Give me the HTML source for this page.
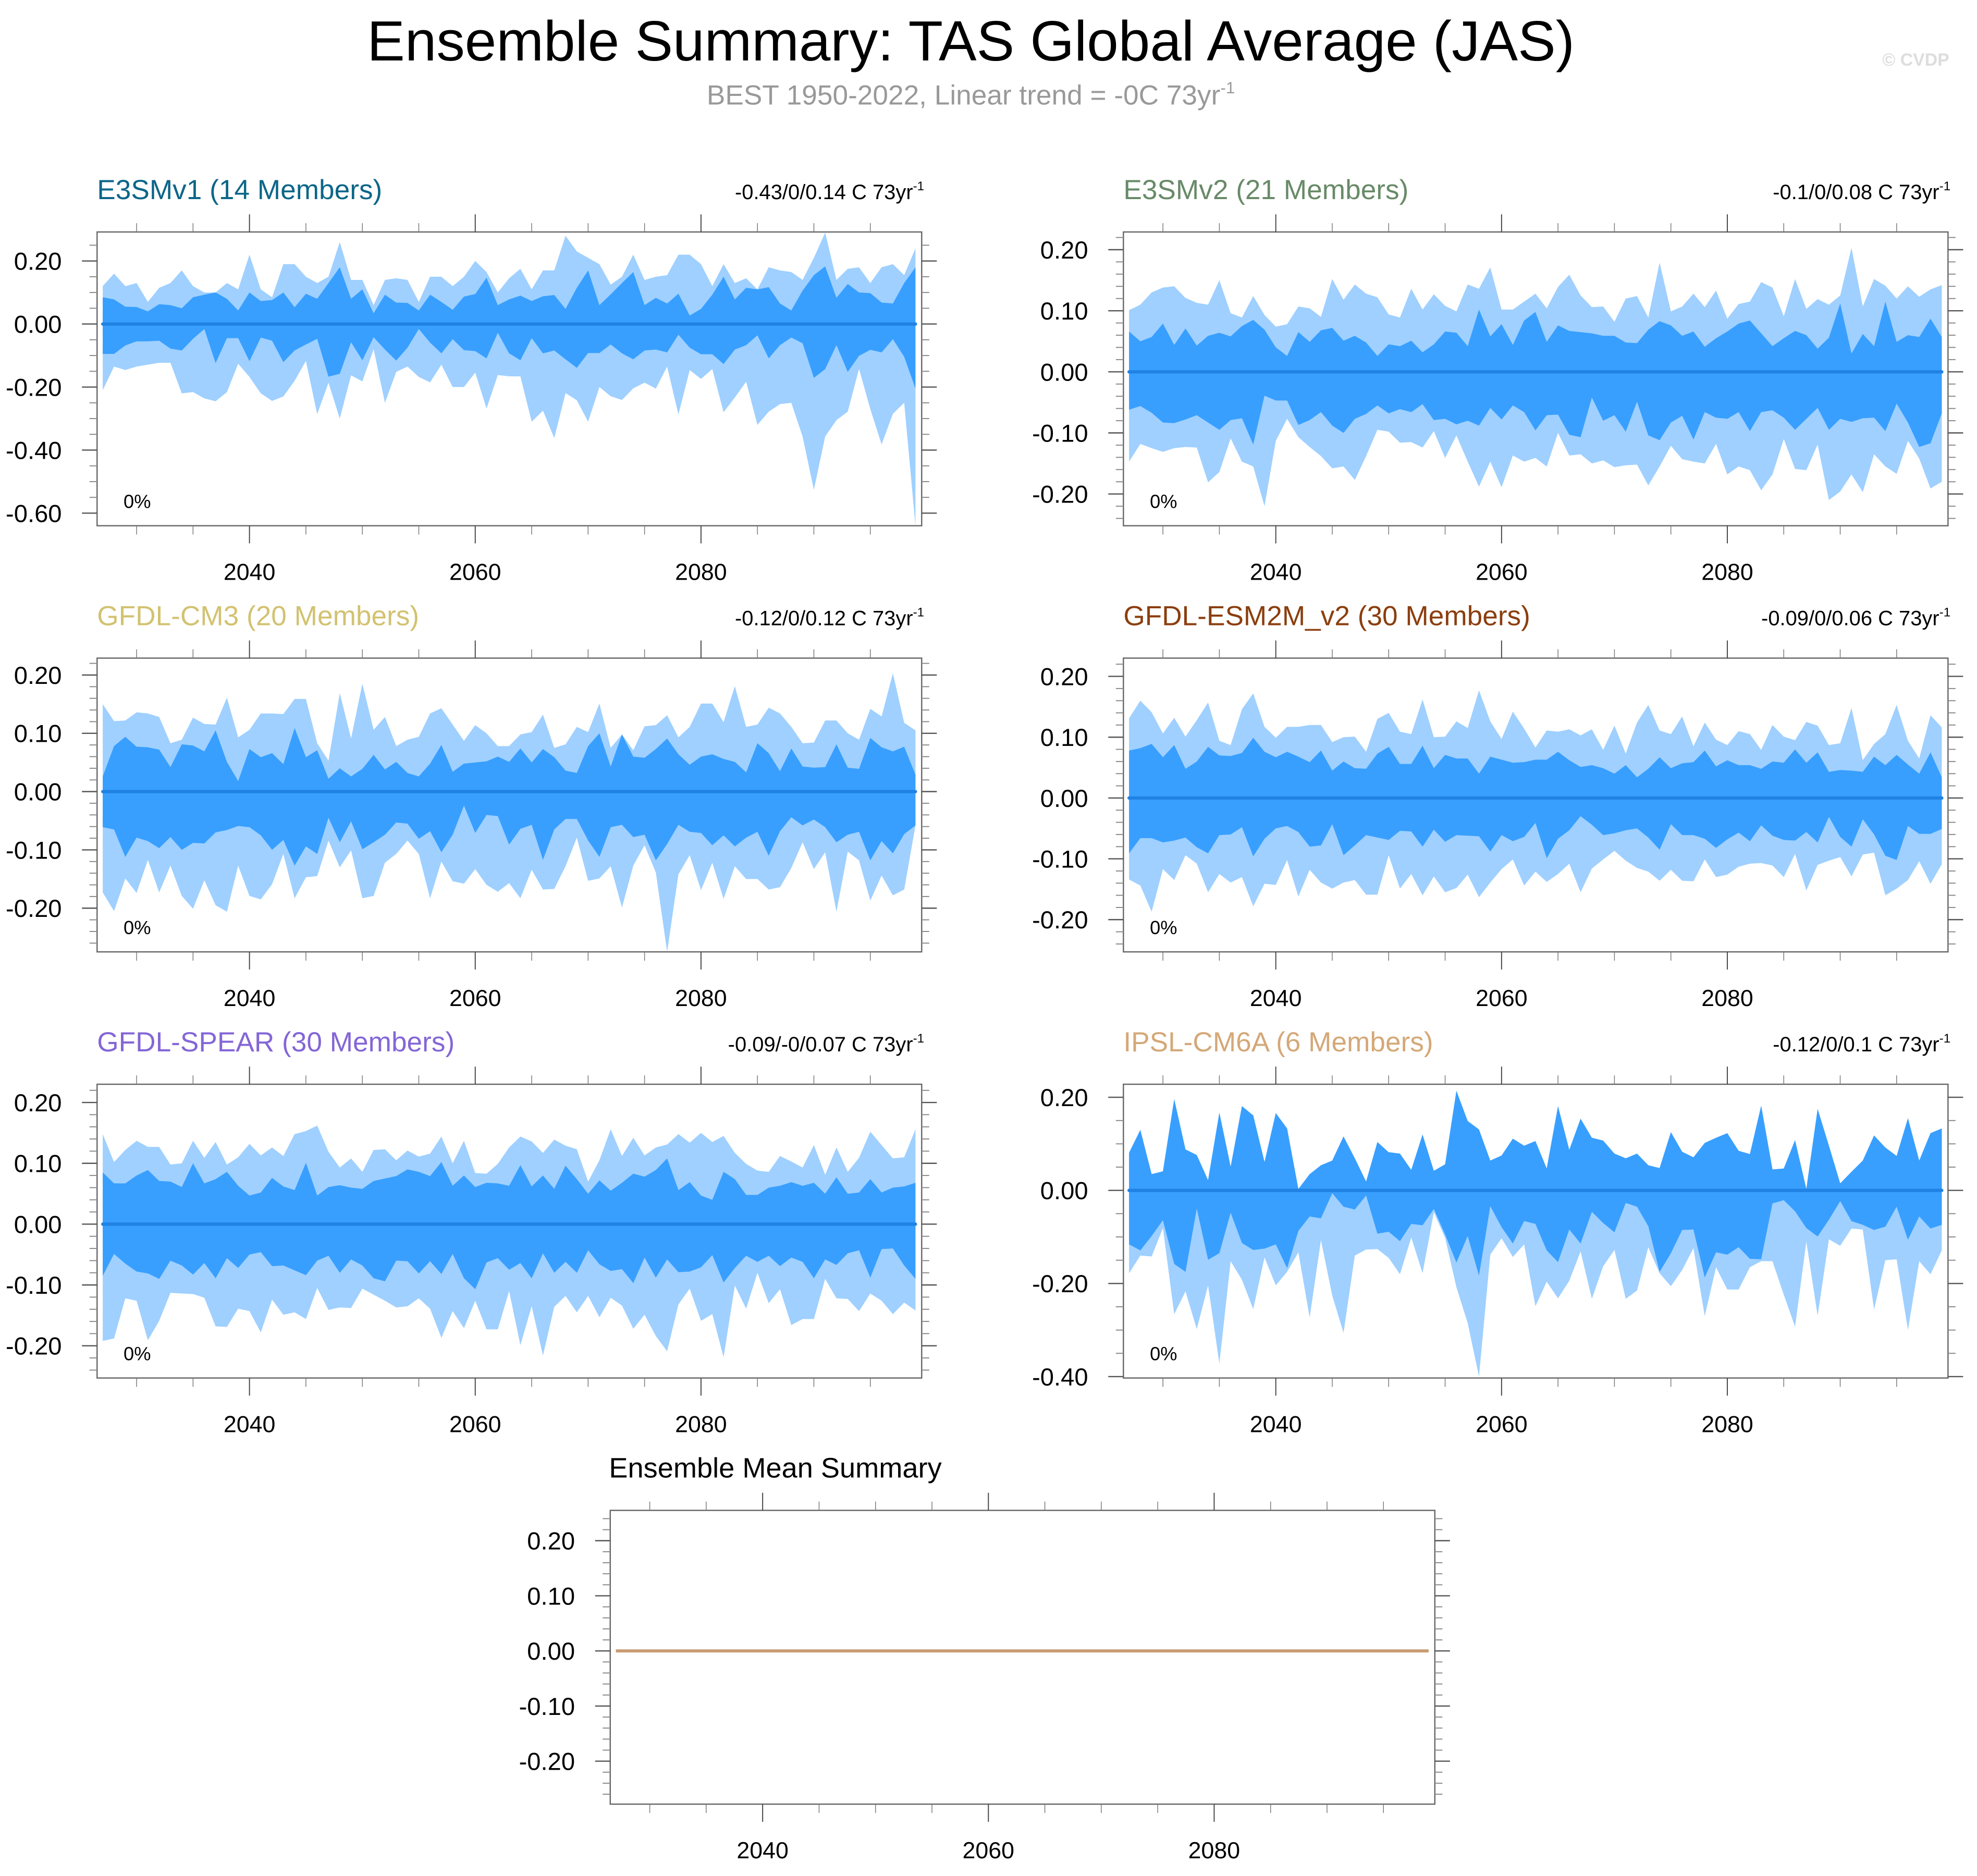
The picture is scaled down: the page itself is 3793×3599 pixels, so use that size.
<!DOCTYPE html>
<html><head><meta charset="utf-8">
<style>
html,body{margin:0;padding:0;background:#fff;}
svg{display:block;}
text{font-family:"Liberation Sans",Arial,sans-serif;}
</style></head>
<body>
<svg id="fig" xmlns="http://www.w3.org/2000/svg" width="3793" height="3599" viewBox="0 0 1568 1488" preserveAspectRatio="none">
<rect x="0" y="0" width="1568" height="1488" fill="#fff"/>
<text x="770" y="48" font-size="45" text-anchor="middle" fill="#000">Ensemble Summary: TAS Global Average (JAS)</text>
<text x="770" y="83" font-size="22" text-anchor="middle" fill="#999">BEST 1950-2022, Linear trend = -0C 73yr<tspan dy="-9" font-size="13">-1</tspan></text>
<text x="1546" y="52" font-size="14" font-weight="bold" text-anchor="end" fill="#ddd">© CVDP</text>
<g id="panels"></g>
</svg>
<script>
// ---------- data (years 2027..2099) ----------
const startYear = 2027;
const xMajorTicks = [2040, 2060, 2080];
const xMinorTicks = [2030,2035,2045,2050,2055,2065,2070,2075,2085,2090,2095];

const p1OuterUp = [0.12,0.16,0.12,0.13,0.07,0.115,0.13,0.17,0.12,0.10,0.10,0.13,0.11,0.22,0.11,0.085,0.19,0.19,0.15,0.13,0.15,0.26,0.14,0.14,0.06,0.14,0.145,0.14,0.07,0.15,0.15,0.12,0.15,0.20,0.165,0.10,0.145,0.175,0.11,0.17,0.17,0.28,0.23,0.21,0.19,0.125,0.15,0.22,0.14,0.15,0.155,0.22,0.22,0.19,0.12,0.19,0.13,0.145,0.11,0.18,0.17,0.165,0.14,0.21,0.29,0.14,0.175,0.18,0.13,0.18,0.19,0.155,0.24];
const p1InnerUp = [0.085,0.078,0.055,0.054,0.04,0.063,0.06,0.05,0.085,0.093,0.10,0.08,0.043,0.10,0.073,0.076,0.10,0.053,0.096,0.08,0.13,0.18,0.08,0.11,0.034,0.093,0.068,0.067,0.043,0.093,0.07,0.045,0.087,0.095,0.147,0.06,0.078,0.09,0.073,0.088,0.092,0.048,0.115,0.17,0.06,0.094,0.13,0.165,0.06,0.083,0.065,0.096,0.027,0.048,0.093,0.15,0.078,0.115,0.11,0.117,0.065,0.043,0.106,0.155,0.183,0.083,0.127,0.10,0.098,0.068,0.065,0.13,0.18];
const p1InnerLo = [-0.095,-0.095,-0.068,-0.055,-0.055,-0.053,-0.078,-0.084,-0.047,-0.016,-0.124,-0.045,-0.045,-0.118,-0.043,-0.053,-0.121,-0.084,-0.065,-0.047,-0.167,-0.158,-0.058,-0.115,-0.042,-0.081,-0.116,-0.075,-0.016,-0.059,-0.093,-0.048,-0.083,-0.086,-0.109,-0.028,-0.093,-0.115,-0.045,-0.093,-0.084,-0.112,-0.139,-0.092,-0.092,-0.065,-0.093,-0.112,-0.084,-0.081,-0.09,-0.034,-0.075,-0.096,-0.096,-0.127,-0.081,-0.067,-0.036,-0.109,-0.067,-0.043,-0.061,-0.171,-0.143,-0.067,-0.152,-0.101,-0.082,-0.09,-0.048,-0.104,-0.205];
const p1OuterLo = [-0.21,-0.135,-0.146,-0.135,-0.129,-0.123,-0.123,-0.22,-0.216,-0.236,-0.245,-0.216,-0.126,-0.168,-0.22,-0.244,-0.23,-0.18,-0.117,-0.286,-0.186,-0.30,-0.163,-0.182,-0.08,-0.25,-0.152,-0.135,-0.168,-0.185,-0.129,-0.20,-0.20,-0.154,-0.268,-0.162,-0.166,-0.166,-0.31,-0.275,-0.362,-0.219,-0.242,-0.31,-0.20,-0.229,-0.241,-0.204,-0.186,-0.205,-0.135,-0.287,-0.146,-0.174,-0.143,-0.28,-0.233,-0.183,-0.32,-0.278,-0.254,-0.25,-0.357,-0.526,-0.357,-0.305,-0.278,-0.142,-0.27,-0.382,-0.285,-0.25,-0.64];

const p2OuterUp = [0.101,0.11,0.13,0.138,0.14,0.121,0.113,0.11,0.15,0.096,0.089,0.124,0.093,0.074,0.078,0.107,0.104,0.09,0.152,0.118,0.143,0.128,0.122,0.094,0.089,0.136,0.102,0.127,0.108,0.099,0.143,0.136,0.171,0.102,0.102,0.115,0.128,0.104,0.139,0.159,0.125,0.106,0.107,0.082,0.12,0.124,0.089,0.179,0.099,0.107,0.128,0.106,0.133,0.087,0.111,0.115,0.147,0.138,0.091,0.152,0.103,0.119,0.11,0.125,0.203,0.107,0.152,0.141,0.12,0.14,0.123,0.135,0.142];
const p2InnerUp = [0.066,0.05,0.057,0.079,0.044,0.071,0.043,0.059,0.064,0.058,0.075,0.085,0.069,0.04,0.026,0.065,0.049,0.068,0.072,0.051,0.059,0.048,0.026,0.045,0.042,0.051,0.032,0.045,0.066,0.064,0.042,0.102,0.058,0.078,0.044,0.084,0.098,0.049,0.076,0.067,0.065,0.063,0.059,0.059,0.048,0.047,0.069,0.083,0.076,0.059,0.066,0.041,0.055,0.066,0.079,0.084,0.063,0.042,0.055,0.067,0.06,0.038,0.056,0.112,0.03,0.062,0.042,0.115,0.049,0.06,0.057,0.087,0.057];
const p2InnerLo = [-0.062,-0.056,-0.067,-0.083,-0.084,-0.078,-0.071,-0.083,-0.095,-0.079,-0.076,-0.119,-0.039,-0.047,-0.047,-0.087,-0.079,-0.066,-0.088,-0.10,-0.077,-0.069,-0.055,-0.068,-0.061,-0.066,-0.053,-0.079,-0.077,-0.086,-0.08,-0.088,-0.059,-0.078,-0.055,-0.066,-0.096,-0.071,-0.07,-0.103,-0.107,-0.042,-0.08,-0.071,-0.098,-0.049,-0.104,-0.112,-0.083,-0.072,-0.111,-0.066,-0.075,-0.077,-0.066,-0.097,-0.066,-0.063,-0.075,-0.095,-0.077,-0.059,-0.095,-0.077,-0.082,-0.076,-0.075,-0.097,-0.052,-0.083,-0.123,-0.117,-0.068];
const p2OuterLo = [-0.147,-0.118,-0.125,-0.131,-0.125,-0.123,-0.124,-0.181,-0.164,-0.109,-0.147,-0.155,-0.22,-0.113,-0.077,-0.107,-0.123,-0.138,-0.158,-0.155,-0.177,-0.138,-0.095,-0.098,-0.116,-0.115,-0.124,-0.097,-0.141,-0.104,-0.147,-0.188,-0.147,-0.189,-0.137,-0.147,-0.141,-0.155,-0.10,-0.137,-0.135,-0.15,-0.145,-0.156,-0.153,-0.152,-0.186,-0.155,-0.121,-0.143,-0.147,-0.15,-0.118,-0.168,-0.155,-0.161,-0.194,-0.168,-0.11,-0.159,-0.161,-0.119,-0.21,-0.196,-0.168,-0.197,-0.135,-0.155,-0.167,-0.113,-0.142,-0.191,-0.18];

const p3OuterUp = [0.15,0.121,0.122,0.136,0.134,0.128,0.083,0.089,0.127,0.116,0.115,0.161,0.093,0.106,0.134,0.134,0.133,0.159,0.159,0.083,0.053,0.169,0.091,0.185,0.106,0.128,0.078,0.089,0.094,0.134,0.143,0.115,0.087,0.114,0.10,0.078,0.078,0.098,0.102,0.132,0.075,0.081,0.111,0.102,0.151,0.075,0.098,0.071,0.112,0.114,0.131,0.093,0.111,0.151,0.151,0.119,0.181,0.111,0.115,0.144,0.134,0.111,0.083,0.084,0.122,0.122,0.10,0.089,0.142,0.129,0.203,0.118,0.105];
const p3InnerUp = [0.026,0.078,0.094,0.077,0.076,0.072,0.042,0.081,0.079,0.069,0.105,0.051,0.018,0.073,0.059,0.066,0.047,0.109,0.059,0.071,0.022,0.04,0.026,0.039,0.063,0.038,0.051,0.032,0.026,0.048,0.08,0.034,0.048,0.05,0.052,0.06,0.051,0.074,0.05,0.073,0.059,0.036,0.032,0.078,0.10,0.043,0.098,0.06,0.058,0.073,0.091,0.064,0.046,0.06,0.064,0.056,0.051,0.033,0.083,0.066,0.035,0.074,0.043,0.041,0.042,0.081,0.041,0.039,0.092,0.076,0.069,0.077,0.029];
const p3InnerLo = [-0.061,-0.065,-0.112,-0.079,-0.085,-0.097,-0.078,-0.10,-0.088,-0.089,-0.07,-0.066,-0.059,-0.061,-0.075,-0.10,-0.083,-0.127,-0.094,-0.107,-0.045,-0.087,-0.051,-0.099,-0.087,-0.074,-0.053,-0.055,-0.081,-0.068,-0.104,-0.074,-0.024,-0.071,-0.04,-0.042,-0.091,-0.064,-0.057,-0.117,-0.065,-0.047,-0.047,-0.084,-0.112,-0.061,-0.057,-0.078,-0.074,-0.118,-0.09,-0.057,-0.069,-0.071,-0.092,-0.075,-0.094,-0.079,-0.069,-0.11,-0.068,-0.044,-0.058,-0.048,-0.061,-0.087,-0.074,-0.069,-0.118,-0.085,-0.106,-0.073,-0.058];
const p3OuterLo = [-0.173,-0.205,-0.149,-0.174,-0.117,-0.173,-0.127,-0.179,-0.201,-0.152,-0.195,-0.206,-0.127,-0.179,-0.185,-0.159,-0.107,-0.183,-0.147,-0.145,-0.084,-0.13,-0.101,-0.183,-0.179,-0.122,-0.107,-0.084,-0.107,-0.183,-0.12,-0.154,-0.158,-0.133,-0.16,-0.172,-0.157,-0.183,-0.134,-0.168,-0.167,-0.128,-0.079,-0.153,-0.149,-0.128,-0.199,-0.127,-0.092,-0.139,-0.275,-0.142,-0.109,-0.169,-0.122,-0.184,-0.128,-0.15,-0.15,-0.168,-0.164,-0.131,-0.087,-0.133,-0.104,-0.206,-0.103,-0.118,-0.187,-0.144,-0.178,-0.168,-0.058];

const p4OuterUp = [0.131,0.16,0.141,0.106,0.132,0.101,0.128,0.157,0.094,0.087,0.146,0.172,0.117,0.099,0.117,0.117,0.12,0.12,0.092,0.10,0.101,0.076,0.13,0.14,0.109,0.105,0.162,0.10,0.101,0.126,0.115,0.177,0.126,0.097,0.142,0.114,0.083,0.111,0.109,0.113,0.103,0.113,0.079,0.119,0.073,0.124,0.153,0.111,0.105,0.134,0.085,0.124,0.096,0.087,0.11,0.105,0.079,0.12,0.101,0.095,0.125,0.119,0.087,0.09,0.148,0.062,0.089,0.105,0.153,0.094,0.065,0.136,0.116];
const p4InnerUp = [0.078,0.082,0.089,0.067,0.087,0.048,0.06,0.084,0.07,0.069,0.074,0.099,0.076,0.067,0.076,0.068,0.059,0.078,0.045,0.06,0.049,0.048,0.073,0.084,0.056,0.056,0.086,0.049,0.071,0.065,0.065,0.04,0.068,0.063,0.058,0.059,0.063,0.063,0.076,0.062,0.051,0.054,0.049,0.04,0.054,0.034,0.048,0.067,0.049,0.057,0.059,0.078,0.052,0.062,0.054,0.054,0.048,0.06,0.058,0.08,0.058,0.075,0.043,0.046,0.045,0.043,0.068,0.054,0.071,0.055,0.04,0.075,0.034];
const p4InnerLo = [-0.091,-0.066,-0.066,-0.073,-0.07,-0.065,-0.081,-0.091,-0.061,-0.06,-0.048,-0.096,-0.067,-0.05,-0.046,-0.056,-0.08,-0.078,-0.043,-0.094,-0.078,-0.061,-0.065,-0.069,-0.054,-0.055,-0.08,-0.052,-0.072,-0.061,-0.062,-0.063,-0.088,-0.061,-0.071,-0.064,-0.041,-0.099,-0.067,-0.053,-0.03,-0.044,-0.061,-0.058,-0.053,-0.05,-0.065,-0.085,-0.043,-0.061,-0.061,-0.067,-0.082,-0.068,-0.057,-0.071,-0.045,-0.062,-0.069,-0.07,-0.056,-0.073,-0.031,-0.064,-0.08,-0.035,-0.06,-0.095,-0.102,-0.046,-0.059,-0.059,-0.051];
const p4OuterLo = [-0.134,-0.144,-0.187,-0.117,-0.135,-0.094,-0.108,-0.155,-0.125,-0.139,-0.13,-0.178,-0.141,-0.143,-0.102,-0.162,-0.118,-0.139,-0.149,-0.139,-0.135,-0.159,-0.159,-0.094,-0.149,-0.125,-0.16,-0.129,-0.155,-0.148,-0.126,-0.163,-0.139,-0.117,-0.101,-0.144,-0.121,-0.138,-0.125,-0.108,-0.155,-0.116,-0.101,-0.087,-0.103,-0.115,-0.121,-0.136,-0.118,-0.136,-0.137,-0.101,-0.13,-0.126,-0.113,-0.108,-0.107,-0.111,-0.13,-0.092,-0.152,-0.11,-0.103,-0.097,-0.129,-0.093,-0.09,-0.16,-0.149,-0.135,-0.104,-0.141,-0.109];

const p5OuterUp = [0.148,0.102,0.122,0.137,0.127,0.127,0.098,0.10,0.137,0.109,0.135,0.098,0.11,0.132,0.113,0.126,0.112,0.148,0.153,0.162,0.119,0.093,0.108,0.086,0.122,0.123,0.105,0.121,0.111,0.116,0.144,0.10,0.137,0.084,0.083,0.099,0.126,0.144,0.136,0.117,0.139,0.129,0.123,0.07,0.105,0.156,0.112,0.142,0.113,0.126,0.131,0.148,0.134,0.15,0.135,0.145,0.117,0.099,0.088,0.086,0.112,0.103,0.093,0.13,0.081,0.126,0.086,0.109,0.152,0.13,0.108,0.11,0.156];
const p5InnerUp = [0.085,0.067,0.067,0.08,0.089,0.071,0.07,0.061,0.10,0.067,0.074,0.086,0.063,0.047,0.052,0.076,0.062,0.056,0.101,0.047,0.061,0.064,0.06,0.058,0.071,0.075,0.079,0.09,0.086,0.079,0.102,0.063,0.08,0.061,0.068,0.067,0.063,0.097,0.062,0.08,0.058,0.096,0.074,0.05,0.072,0.055,0.068,0.083,0.078,0.089,0.108,0.056,0.069,0.047,0.04,0.086,0.074,0.048,0.048,0.06,0.063,0.069,0.063,0.068,0.05,0.077,0.05,0.052,0.074,0.052,0.06,0.062,0.068];
const p5InnerLo = [-0.085,-0.049,-0.065,-0.078,-0.081,-0.09,-0.06,-0.068,-0.083,-0.064,-0.089,-0.056,-0.072,-0.05,-0.046,-0.069,-0.068,-0.076,-0.084,-0.06,-0.052,-0.08,-0.058,-0.068,-0.089,-0.094,-0.06,-0.061,-0.081,-0.061,-0.082,-0.049,-0.089,-0.107,-0.063,-0.056,-0.075,-0.064,-0.089,-0.048,-0.08,-0.062,-0.08,-0.043,-0.066,-0.077,-0.074,-0.097,-0.055,-0.088,-0.058,-0.079,-0.078,-0.071,-0.051,-0.096,-0.072,-0.052,-0.062,-0.052,-0.069,-0.055,-0.062,-0.089,-0.058,-0.067,-0.048,-0.043,-0.088,-0.041,-0.04,-0.068,-0.09];
const p5OuterLo = [-0.192,-0.188,-0.122,-0.126,-0.191,-0.159,-0.113,-0.114,-0.115,-0.121,-0.168,-0.169,-0.139,-0.143,-0.178,-0.124,-0.149,-0.145,-0.156,-0.105,-0.141,-0.137,-0.138,-0.106,-0.116,-0.126,-0.137,-0.135,-0.122,-0.139,-0.187,-0.143,-0.171,-0.126,-0.173,-0.173,-0.11,-0.199,-0.135,-0.216,-0.136,-0.118,-0.145,-0.118,-0.153,-0.121,-0.134,-0.172,-0.149,-0.184,-0.209,-0.132,-0.106,-0.159,-0.148,-0.219,-0.101,-0.139,-0.08,-0.13,-0.107,-0.166,-0.156,-0.156,-0.09,-0.122,-0.123,-0.143,-0.114,-0.126,-0.148,-0.129,-0.142];

const p6OuterUp = [0.081,0.13,0.035,0.041,0.196,0.088,0.076,0.022,0.167,0.051,0.181,0.161,0.061,0.166,0.133,0.003,0.035,0.054,0.064,0.116,0.069,0.019,0.104,0.082,0.079,0.044,0.12,0.042,0.056,0.214,0.149,0.131,0.064,0.075,0.111,0.096,0.106,0.047,0.181,0.087,0.154,0.113,0.107,0.079,0.069,0.079,0.054,0.048,0.125,0.083,0.071,0.102,0.113,0.123,0.085,0.078,0.182,0.045,0.047,0.108,0.003,0.175,0.096,0.015,0.04,0.064,0.118,0.092,0.074,0.155,0.064,0.123,0.133];
const p6InnerUp = p6OuterUp.slice();
const p6InnerLo = [-0.116,-0.129,-0.098,-0.064,-0.158,-0.175,-0.039,-0.149,-0.135,-0.048,-0.113,-0.128,-0.125,-0.116,-0.167,-0.087,-0.056,-0.06,-0.006,-0.035,-0.041,-0.011,-0.093,-0.089,-0.109,-0.072,-0.075,-0.04,-0.095,-0.155,-0.098,-0.183,-0.034,-0.079,-0.114,-0.066,-0.072,-0.129,-0.154,-0.084,-0.114,-0.046,-0.07,-0.09,-0.027,-0.035,-0.077,-0.175,-0.135,-0.085,-0.084,-0.187,-0.133,-0.138,-0.122,-0.147,-0.148,-0.028,-0.021,-0.045,-0.081,-0.099,-0.063,-0.023,-0.066,-0.074,-0.085,-0.078,-0.035,-0.106,-0.056,-0.082,-0.074];
const p6OuterLo = [-0.178,-0.14,-0.142,-0.081,-0.266,-0.217,-0.298,-0.204,-0.372,-0.152,-0.192,-0.255,-0.144,-0.204,-0.175,-0.133,-0.273,-0.107,-0.226,-0.306,-0.14,-0.127,-0.126,-0.145,-0.18,-0.101,-0.178,-0.047,-0.102,-0.208,-0.285,-0.40,-0.138,-0.103,-0.143,-0.116,-0.249,-0.196,-0.232,-0.194,-0.131,-0.233,-0.163,-0.128,-0.233,-0.215,-0.122,-0.178,-0.206,-0.171,-0.124,-0.27,-0.165,-0.213,-0.213,-0.165,-0.152,-0.152,-0.224,-0.293,-0.11,-0.269,-0.105,-0.119,-0.082,-0.084,-0.256,-0.15,-0.148,-0.30,-0.152,-0.18,-0.129];

const ensMeanValues = [0,0,0,0,0,0,0,0,0,0,0,0,0,0,0,0,0,0,0,0,0,0,0,0,0,0,0,0,0,0,0,0,0,0,0,0,0,0,0,0,0,0,0,0,0,0,0,0,0,0,0,0,0,0,0,0,0,0,0,0,0,0,0,0,0,0,0,0,0,0,0,0,0];

const ticksP1 = [-0.6,-0.4,-0.2,0.0,0.2];
const ticks01 = [-0.2,-0.1,0.0,0.1,0.2];
const ticksP6 = [-0.4,-0.2,0.0,0.2];
const panelTitles = ["E3SMv1 (14 Members)","E3SMv2 (21 Members)","GFDL-CM3 (20 Members)","GFDL-ESM2M_v2 (30 Members)","GFDL-SPEAR (30 Members)","IPSL-CM6A (6 Members)"];
const panelRanges = ["-0.43/0/0.14","-0.1/0/0.08","-0.12/0/0.12","-0.09/0/0.06","-0.09/-0/0.07","-0.12/0/0.1"];

// ---------- layout ----------
const panels = [
 {key:'e3smv1', box:[77,184,731,417], ymin:-0.64, ymax:0.292, ticks:ticksP1, minor:0.05, color:'#0b6688', title:0, data:[p1OuterUp,p1InnerUp,p1InnerLo,p1OuterLo]},
 {key:'e3smv2', box:[891,184,1545,417], ymin:-0.252, ymax:0.229, ticks:ticks01, minor:0.02, color:'#688a68', title:1, data:[p2OuterUp,p2InnerUp,p2InnerLo,p2OuterLo]},
 {key:'gfdl-cm3', box:[77,522,731,755], ymin:-0.275, ymax:0.229, ticks:ticks01, minor:0.02, color:'#d2c270', title:2, data:[p3OuterUp,p3InnerUp,p3InnerLo,p3OuterLo]},
 {key:'gfdl-esm2m', box:[891,522,1545,755], ymin:-0.253, ymax:0.23, ticks:ticks01, minor:0.02, color:'#8b3e0e', title:3, data:[p4OuterUp,p4InnerUp,p4InnerLo,p4OuterLo]},
 {key:'gfdl-spear', box:[77,860,731,1093], ymin:-0.253, ymax:0.23, ticks:ticks01, minor:0.02, color:'#8466d6', title:4, data:[p5OuterUp,p5InnerUp,p5InnerLo,p5OuterLo]},
 {key:'ipsl-cm6a', box:[891,860,1545,1093], ymin:-0.403, ymax:0.228, ticks:ticksP6, minor:0.05, color:'#d4a878', title:5, data:[p6OuterUp,p6InnerUp,p6InnerLo,p6OuterLo]},
 {key:'ensemble-mean', box:[484,1198,1138,1431], ymin:-0.278, ymax:0.255, ticks:ticks01, minor:0.02, color:'#000', title:-1, data:null}
];
const NS = 'http://www.w3.org/2000/svg';
const root = document.getElementById('panels');
function mk(tag, attrs, parent){ const e=document.createElementNS(NS,tag); for(const k in attrs) e.setAttribute(k,attrs[k]); parent.appendChild(e); return e; }
function fmt(v){ const s=v.toFixed(2); return s==='-0.00'?'0.00':s; }

panels.forEach(p=>{
  const [x0,y0,x1,y1]=p.box;
  const xs = yr => x0 + (yr-2026.5)/(2099.55-2026.5)*(x1-x0);
  const ys = v => y1 - (v-p.ymin)/(p.ymax-p.ymin)*(y1-y0);
  const g = mk('g',{},root);
  
  
  if(p.data){
    const [ou,iu,il,ol]=p.data;
    const band=(up,lo)=>{ let pts=[]; up.forEach((v,i)=>pts.push(xs(startYear+i).toFixed(2)+','+ys(v).toFixed(2))); for(let i=lo.length-1;i>=0;i--) pts.push(xs(startYear+i).toFixed(2)+','+ys(lo[i]).toFixed(2)); return pts.join(' '); };
    const outer = mk('polygon',{points:band(ou,ol),fill:'#9fd0ff'},g);
    
    
    const inner = mk('polygon',{points:band(iu,il),fill:'#389fff'},g);
    
    
    const ln = mk('line',{x1:xs(startYear),x2:xs(startYear+ou.length-1),y1:ys(0),y2:ys(0),stroke:'#2082e2','stroke-width':2.6,'stroke-linecap':'round'},g);
    
    
    const pc = mk('text',{x:x0+21,y:y1-14,'font-size':15,fill:'#000'},g);
    pc.textContent='0%';
    
    
    const t = mk('text',{x:x0,y:y0-26,'font-size':22,fill:p.color},g);
    t.textContent=panelTitles[p.title];
    
    
    const r = mk('text',{x:x1+2,y:y0-26,'font-size':16.5,'text-anchor':'end',fill:'#000'},g);
    r.textContent=panelRanges[p.title]+' C 73yr';
    const sup = mk('tspan',{dy:-7,'font-size':10},r); sup.textContent='-1';
    
    
  } else {
    const ln = mk('polyline',{points:ensMeanValues.map((v,i)=>xs(startYear+i).toFixed(2)+','+ys(v).toFixed(2)).join(' '),fill:'none',stroke:'#c99a72','stroke-width':2.4},g);
    
    
    const t = mk('text',{x:x0-1,y:y0-26,'font-size':22.4,fill:'#000'},g);
    t.textContent='Ensemble Mean Summary';
    
    
  }
  // frame
  const fr = mk('rect',{x:x0,y:y0,width:x1-x0,height:y1-y0,fill:'none',stroke:'#666','stroke-width':1},g);
  
  
  // x ticks
  xMajorTicks.forEach(yr=>{
    const x=xs(yr);
    mk('line',{x1:x,x2:x,y1:y0,y2:y0-14,stroke:'#444','stroke-width':0.8},g);
    mk('line',{x1:x,x2:x,y1:y1,y2:y1+14,stroke:'#444','stroke-width':0.8},g);
    const lb = mk('text',{x:x,y:y1+43,'font-size':18.5,'text-anchor':'middle',fill:'#000'},g);
    lb.textContent=String(yr);
    
    
  });
  xMinorTicks.forEach(yr=>{
    const x=xs(yr);
    mk('line',{x1:x,x2:x,y1:y0,y2:y0-7,stroke:'#777','stroke-width':0.6},g);
    mk('line',{x1:x,x2:x,y1:y1,y2:y1+7,stroke:'#777','stroke-width':0.6},g);
  });
  // y ticks
  p.ticks.forEach(v=>{
    const y=ys(v);
    mk('line',{x1:x0,x2:x0-12,y1:y,y2:y,stroke:'#555','stroke-width':1},g);
    mk('line',{x1:x1,x2:x1+12,y1:y,y2:y,stroke:'#555','stroke-width':1},g);
    const lb = mk('text',{x:x0-28,y:y+7,'font-size':19.5,'text-anchor':'end',fill:'#000'},g);
    lb.textContent=fmt(v);
    
    
  });
  const n0=Math.ceil(p.ymin/p.minor-1e-6), n1=Math.floor(p.ymax/p.minor+1e-6);
  for(let n=n0;n<=n1;n++){
    const v=n*p.minor; if(p.ticks.some(t=>Math.abs(t-v)<1e-6)) continue;
    const y=ys(v);
    mk('line',{x1:x0,x2:x0-6,y1:y,y2:y,stroke:'#888','stroke-width':0.8},g);
    mk('line',{x1:x1,x2:x1+6,y1:y,y2:y,stroke:'#888','stroke-width':0.8},g);
  }
});
</script>
</body></html>
